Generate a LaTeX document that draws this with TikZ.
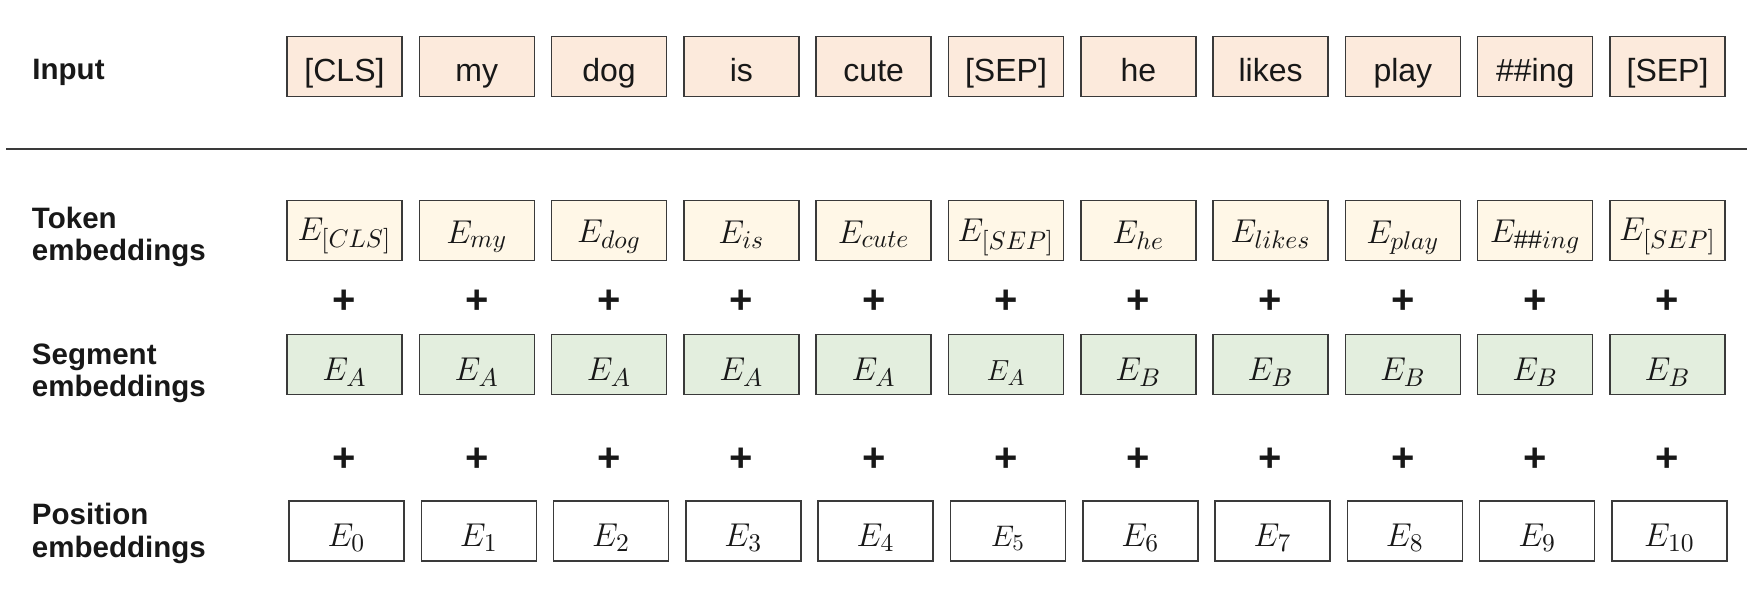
\RequirePackage{fix-cm}
\documentclass[tikz,border=0pt]{standalone}
\usepackage{fontspec}
\setmainfont{Liberation Sans}
\DeclareMathSizes{13.2}{13.2}{10.2}{8}
\definecolor{inpfill}{RGB}{252,234,220}
\definecolor{tokfill}{RGB}{255,247,231}
\definecolor{segfill}{RGB}{227,238,222}
\definecolor{edgecol}{RGB}{58,58,58}
\definecolor{ink}{RGB}{24,24,24}
\tikzset{
  cellbox/.style={draw=edgecol, line width=0.6pt, minimum width=46pt, minimum height=24pt, inner sep=0pt},
  inbox/.style={cellbox, fill=inpfill},
  tokbox/.style={cellbox, fill=tokfill},
  segbox/.style={cellbox, fill=segfill},
  posbox/.style={cellbox, fill=white},
  intext/.style={anchor=base, inner sep=0pt, text=ink, font=\fontsize{12.8}{14}\selectfont},
  mtext/.style={anchor=base, inner sep=0pt, text=ink, font=\fontsize{13.2}{15}\selectfont},
  plussign/.style={anchor=center, inner sep=0pt, text=ink, font=\fontsize{16}{18}\selectfont\bfseries},
  lab/.style={anchor=base west, inner sep=0pt, text=ink, font=\fontsize{11.8}{13}\selectfont\bfseries},
  sepline/.style={draw=edgecol, line width=0.8pt}
}
\begin{document}
\begin{tikzpicture}[x=0.4pt,y=-0.4pt]
\useasboundingbox (0,0) rectangle (1755,589);
% row labels
\node[lab] (lIn) at (32,79) {Input};
\node[lab] (lTa) at (31.5,228.3) {Token};
\node[lab] (lTb) at (31.5,260) {embeddings};
\node[lab] (lSa) at (31.5,364) {Segment};
\node[lab] (lSb) at (31.5,396) {embeddings};
\node[lab] (lPa) at (31.5,524) {Position};
\node[lab] (lPb) at (31.5,557) {embeddings};
% separator
\coordinate (L1) at (6,148.5);
\coordinate (L2) at (1747,148.5);
\draw[sepline] (L1) -- (L2);
% input and token rows
\foreach \i/\w/\t/\dt in {1/{[CLS]}/{[CLS]}/9.5, 2/my/my/12.5, 3/dog/dog/12, 4/is/is/13, 5/cute/cute/12.5, 6/{[SEP]}/{[SEP]}/11, 7/he/he/13, 8/likes/likes/12, 9/play/play/12.5, 10/{\#\#ing}/{\#\#ing}/12, 11/{[SEP]}/{[SEP]}/10}{
  \pgfmathsetmacro\cx{344.5+132.3*(\i-1)}
  \pgfmathsetmacro\ty{230.5+\dt}
  \node[inbox] (in\i) at (\cx,66.5) {};
  \node[intext] (inT\i) at (\cx,81.5) {\w};
  \node[tokbox] (tk\i) at (\cx,230.5) {};
  \node[mtext] (tkT\i) at (\cx,\ty) {$E_{\t}$};
  \node[plussign] (pa\i) at (\cx,302) {+};
}
% segment row
\foreach \i/\s/\sc in {1/A/1, 2/A/1, 3/A/1, 4/A/1, 5/A/1, 6/A/0.88, 7/B/1, 8/B/1, 9/B/1, 10/B/1, 11/B/1}{
  \pgfmathsetmacro\cx{344.5+132.3*(\i-1)}
  \node[segbox] (sg\i) at (\cx,364.5) {};
  \node[mtext, scale=\sc] (sgT\i) at (\cx,380) {$E_{\s}$};
  \node[plussign] (pb\i) at (\cx,460) {+};
}
% position row
\foreach \i/\sc in {1/1, 2/1, 3/1, 4/1, 5/1, 6/0.9, 7/1, 8/1, 9/1, 10/1, 11/1}{
  \pgfmathsetmacro\cx{346.5+132.3*(\i-1)}
  \pgfmathtruncatemacro\n{\i-1}
  \node[posbox] (ps\i) at (\cx,531) {};
  \node[mtext, scale=\sc] (psT\i) at (\cx,546) {$E_{\n}$};
}
\end{tikzpicture}
\end{document}
